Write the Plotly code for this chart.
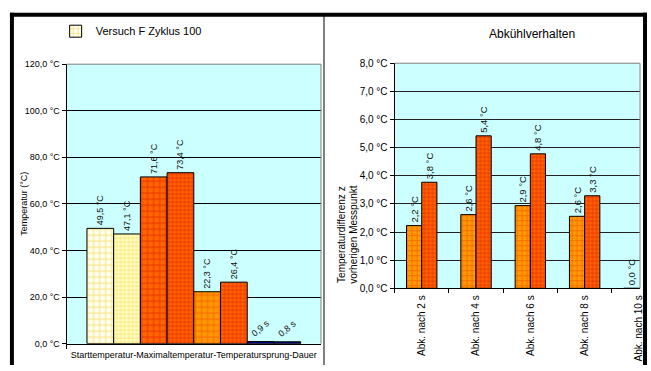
import plotly.graph_objects as go

# ---------------- data ----------------
left_category = ["Starttemperatur-Maximaltemperatur-Temperatursprung-Dauer"]
left_values = [49.5, 47.1, 71.6, 73.4, 22.3, 26.4, 0.9, 0.8]
left_units = ["°C", "°C", "°C", "°C", "°C", "°C", "s", "s"]
left_series_name = "Versuch F Zyklus 100"
left_title_y = "Temperatur (°C)"

right_categories = ["Abk. nach 2 s", "Abk. nach 4 s", "Abk. nach 6 s",
                    "Abk. nach 8 s", "Abk. nach 10 s"]
right_series_a = [2.23, 2.62, 2.94, 2.56, 0.0]
right_series_b = [3.77, 5.42, 4.78, 3.29, 0.0]
right_title = "Abkühlverhalten"
right_title_y = ["Temperaturdifferenz z", "vorherigen Messpunkt"]


def fmt(v, unit):
    return f"{v:.1f}".replace(".", ",") + " " + unit


W, H = 651, 371
FONT = "Arial, Liberation Sans, sans-serif"


def px_x(p):
    return p / W


def px_y(p):
    return 1 - p / H


# bar styles (pattern fill like Excel)
left_styles = [
    dict(bg="#FFFFF0", fg="#F2C200", size=6, sol=0.3),
    dict(bg="#FFFFCC", fg="#F2C200", size=4, sol=0.35),
    dict(bg="#FF6600", fg="#D90000", size=6, sol=0.3),
    dict(bg="#FF6600", fg="#D90000", size=4, sol=0.4),
    dict(bg="#FF9900", fg="#F03000", size=6, sol=0.3),
    dict(bg="#FF6600", fg="#D90000", size=4, sol=0.4),
    dict(bg="#000080", fg=None, size=None, sol=None),
    dict(bg="#000080", fg=None, size=None, sol=None),
]

fig = go.Figure()

bw = 0.105
start = -0.42
for i, (v, u, st) in enumerate(zip(left_values, left_units, left_styles)):
    marker = dict(color=st["bg"], line=dict(color="black", width=1))
    if st["fg"]:
        marker["pattern"] = dict(shape="+", fgcolor=st["fg"], bgcolor=st["bg"],
                                 size=st["size"], solidity=st["sol"],
                                 fillmode="overlay")
    fig.add_trace(go.Bar(
        x=left_category, y=[v], name=left_series_name,
        showlegend=(i == 0), marker=marker,
        width=bw, offset=start + i * bw,
        text=[fmt(v, u)], textposition="outside",
        textangle=-90 if u == "°C" else -40,
        textfont=dict(size=9, color="#111", family=FONT),
        constraintext="none", cliponaxis=False,
        xaxis="x", yaxis="y",
    ))

rw = 0.28
for vals, st, off in [
    (right_series_a, dict(bg="#FF9900", fg="#F03000", size=5, sol=0.3), -rw),
    (right_series_b, dict(bg="#FF6600", fg="#D90000", size=4, sol=0.4), 0.0),
]:
    fig.add_trace(go.Bar(
        x=right_categories, y=vals, showlegend=False,
        marker=dict(color=st["bg"], line=dict(color="black", width=1),
                    pattern=dict(shape="+", fgcolor=st["fg"], bgcolor=st["bg"],
                                 size=st["size"], solidity=st["sol"],
                                 fillmode="overlay")),
        width=rw, offset=off,
        text=[fmt(v, "°C") for v in vals], textposition="outside",
        textangle=-90, textfont=dict(size=9.5, color="#111", family=FONT),
        constraintext="none", cliponaxis=True,
        xaxis="x2", yaxis="y2",
    ))

axis_common = dict(ticks="outside", ticklen=4, tickcolor="black",
                   showline=True, linecolor="black", linewidth=1)

fig.update_layout(
    width=W, height=H, margin=dict(l=0, r=0, t=0, b=0),
    paper_bgcolor="white", plot_bgcolor="#CCFFFF",
    barmode="overlay", separators=", ",
    font=dict(family=FONT, color="black"),
    showlegend=True,
    legend=dict(x=px_x(56), y=px_y(27), xanchor="left", yanchor="middle",
                bgcolor="rgba(0,0,0,0)", font=dict(size=11, family=FONT),
                itemwidth=30),
    xaxis=dict(domain=[px_x(67), px_x(323)], anchor="y", type="category",
               range=[-0.5, 0.5], tickson="boundaries", showgrid=False,
               ticklabelstandoff=3,
               tickfont=dict(size=9, family=FONT, color="black"), **axis_common),
    yaxis=dict(domain=[px_y(349), px_y(61)], anchor="x", range=[0, 120],
               dtick=20, tickformat=".1f", ticksuffix=" °C",
               gridcolor="black", gridwidth=1, zeroline=False,
               tickfont=dict(size=9, family=FONT, color="black"), **axis_common),
    xaxis2=dict(domain=[px_x(397), px_x(644)], anchor="y2", type="category",
                range=[-0.5, 4.02], tickson="boundaries", tickangle=-90,
                showgrid=False, ticklabelstandoff=2,
                tickfont=dict(size=10, family=FONT, color="black"), **axis_common),
    yaxis2=dict(domain=[px_y(292), px_y(60)], anchor="x2", range=[0, 8],
                dtick=1, tickformat=".1f", ticksuffix=" °C",
                gridcolor="#222", gridwidth=1, zeroline=False,
                tickfont=dict(size=10, family=FONT, color="black"), **axis_common),
)

annotations = [
    dict(text=left_title_y, x=px_x(24), y=px_y(205), xref="paper", yref="paper",
         textangle=-90, showarrow=False, font=dict(size=9, family=FONT),
         xanchor="center", yanchor="middle"),
    dict(text=right_title, x=px_x(535), y=px_y(30), xref="paper", yref="paper",
         showarrow=False, font=dict(size=12, family=FONT),
         xanchor="center", yanchor="middle"),
    dict(text=right_title_y[0], x=px_x(343), y=px_y(236), xref="paper", yref="paper",
         textangle=-90, showarrow=False, font=dict(size=10, family=FONT),
         xanchor="center", yanchor="middle"),
    dict(text=right_title_y[1], x=px_x(355), y=px_y(236), xref="paper", yref="paper",
         textangle=-90, showarrow=False, font=dict(size=10, family=FONT),
         xanchor="center", yanchor="middle"),
]
fig.update_layout(annotations=annotations)

shapes = []
for xr, yr in [("x domain", "y domain"), ("x2 domain", "y2 domain")]:
    shapes.append(dict(type="line", xref=xr, yref=yr, x0=0, x1=1, y0=1, y1=1,
                       line=dict(color="#808080", width=1), layer="above"))
    shapes.append(dict(type="line", xref=xr, yref=yr, x0=1, x1=1, y0=0, y1=1,
                       line=dict(color="#808080", width=1), layer="above"))
shapes += [
    dict(type="rect", xref="paper", yref="paper", x0=px_x(10), x1=1, y0=px_y(12), y1=px_y(8),
         fillcolor="black", line=dict(width=0), layer="above"),
    dict(type="rect", xref="paper", yref="paper", x0=px_x(10), x1=px_x(14), y0=0, y1=px_y(8),
         fillcolor="black", line=dict(width=0), layer="above"),
    dict(type="rect", xref="paper", yref="paper", x0=px_x(647), x1=1, y0=0, y1=px_y(8),
         fillcolor="black", line=dict(width=0), layer="above"),
    dict(type="line", xref="paper", yref="paper", x0=px_x(326), x1=px_x(326), y0=0, y1=px_y(10),
         line=dict(color="black", width=1), layer="above"),
]
fig.update_layout(shapes=shapes)

fig.write_html("out.html", config={"displayModeBar": False},
               post_script="document.body.style.margin='0';document.body.style.overflow='hidden';")
